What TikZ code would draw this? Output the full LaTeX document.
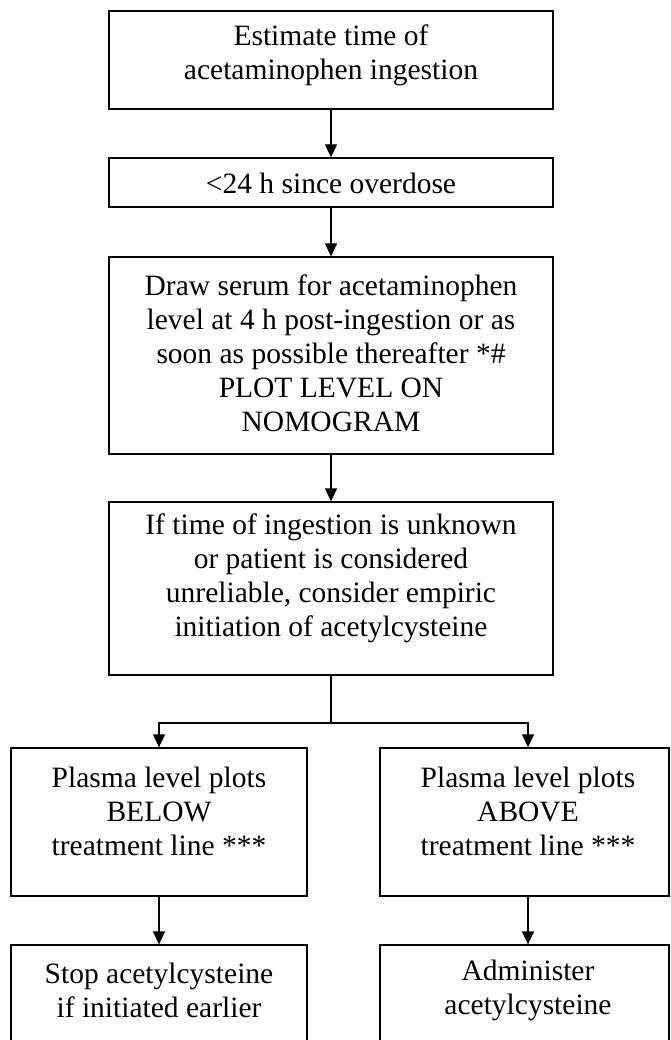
\documentclass[tikz,border=0pt]{standalone}
\usepackage{fontspec}
\setmainfont{Liberation Serif}
\usetikzlibrary{arrows.meta}
\begin{document}
\begin{tikzpicture}[x=1pt,y=-1pt,
  box/.style={draw, line width=1.3pt, inner sep=0pt, rectangle},
  txt/.style={inner sep=0pt, align=center, font=\fontsize{29.5}{34}\selectfont},
  conn/.style={line width=1.3pt, line join=miter, -{Triangle[width=12pt,length=13pt]}},
  plainline/.style={line width=1.3pt}]
\clip (0,0) rectangle (670,1040);
\fill[white] (0,0) rectangle (670,1040);
% boxes
\node[box, minimum width=444pt, minimum height=98pt] (b1) at (331,60) {};
\node[box, minimum width=444pt, minimum height=49pt] (b2) at (331,182.5) {};
\node[box, minimum width=444pt, minimum height=197pt] (b3) at (331,355.5) {};
\node[box, minimum width=444pt, minimum height=173pt] (b4) at (331,588.5) {};
\node[box, minimum width=296pt, minimum height=148pt] (b5) at (159,822) {};
\node[box, minimum width=289pt, minimum height=148pt] (b6) at (524.5,822) {};
\node[box, minimum width=296pt, minimum height=110pt] (b7) at (159,1000) {};
\node[box, minimum width=289pt, minimum height=110pt] (b8) at (524.5,1000) {};
% texts
\node[txt] (t1) at (331,55) {Estimate time of\\acetaminophen ingestion};
\node[txt] (t2) at (331,183) {<24 h since overdose};
\node[txt] (t3) at (331,353) {Draw serum for acetaminophen\\level at 4 h post-ingestion or as\\soon as possible thereafter *\#\\PLOT LEVEL ON\\NOMOGRAM};
\node[txt] (t4) at (331,578) {If time of ingestion is unknown\\or patient is considered\\unreliable, consider empiric\\initiation of acetylcysteine};
\node[txt] (t5) at (159,811) {Plasma level plots\\BELOW\\treatment line ***};
\node[txt] (t6) at (528,811) {Plasma level plots\\ABOVE\\treatment line ***};
\node[txt] (t7) at (159,990.5) {Stop acetylcysteine\\if initiated earlier};
\node[txt] (t8) at (528,990.5) {Administer\\acetylcysteine};
% junction coordinates
\coordinate (j0) at (331,723);
\coordinate (j1) at (159,723);
\coordinate (j2) at (528,723);
% connectors
\draw[conn] (b1.south) -- (b2.north);
\draw[conn] (b2.south) -- (b3.north);
\draw[conn] (b3.south) -- (b4.north);
\draw[plainline] (b4.south) -- (j0);
\draw[conn] (j0) -- (j1) -- (j1 |- b5.north);
\draw[conn] (j0) -- (j2) -- (j2 |- b6.north);
\draw[conn] (b5.south) -- (b7.north);
\draw[conn] (j2 |- b6.south) -- (j2 |- b8.north);
\end{tikzpicture}
\end{document}
